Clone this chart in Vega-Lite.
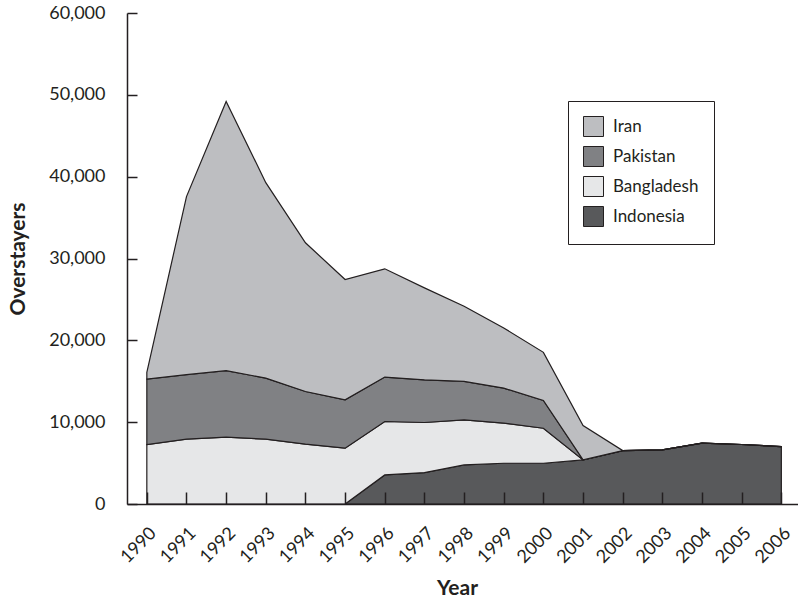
{
  "$schema": "https://vega.github.io/schema/vega-lite/v6.json",
  "autosize": {"type": "none"},
  "padding": {"left": 127, "top": 13, "right": 0, "bottom": 93},
  "width": 671,
  "height": 491,
  "background": "white",
  "config": {
    "view": {"stroke": null},
    "font": "Lato",
    "axis": {
      "grid": false,
      "domainColor": "#231f20",
      "domainWidth": 1.5,
      "tickColor": "#231f20",
      "tickWidth": 1.5,
      "labelColor": "#231f20",
      "titleColor": "#231f20",
      "labelFont": "Lato",
      "titleFont": "Lato"
    }
  },
  "data": {
    "values": [
      {"year": 1990, "country": "Indonesia", "value": 0},
      {"year": 1991, "country": "Indonesia", "value": 0},
      {"year": 1992, "country": "Indonesia", "value": 0},
      {"year": 1993, "country": "Indonesia", "value": 0},
      {"year": 1994, "country": "Indonesia", "value": 0},
      {"year": 1995, "country": "Indonesia", "value": 0},
      {"year": 1996, "country": "Indonesia", "value": 3550},
      {"year": 1997, "country": "Indonesia", "value": 3840},
      {"year": 1998, "country": "Indonesia", "value": 4780},
      {"year": 1999, "country": "Indonesia", "value": 4980},
      {"year": 2000, "country": "Indonesia", "value": 4980},
      {"year": 2001, "country": "Indonesia", "value": 5390},
      {"year": 2002, "country": "Indonesia", "value": 6530},
      {"year": 2003, "country": "Indonesia", "value": 6610},
      {"year": 2004, "country": "Indonesia", "value": 7430},
      {"year": 2005, "country": "Indonesia", "value": 7270},
      {"year": 2006, "country": "Indonesia", "value": 7020},
      {"year": 1990, "country": "Bangladesh", "value": 7260},
      {"year": 1991, "country": "Bangladesh", "value": 7920},
      {"year": 1992, "country": "Bangladesh", "value": 8160},
      {"year": 1993, "country": "Bangladesh", "value": 7920},
      {"year": 1994, "country": "Bangladesh", "value": 7310},
      {"year": 1995, "country": "Bangladesh", "value": 6820},
      {"year": 1996, "country": "Bangladesh", "value": 6530},
      {"year": 1997, "country": "Bangladesh", "value": 6120},
      {"year": 1998, "country": "Bangladesh", "value": 5510},
      {"year": 1999, "country": "Bangladesh", "value": 4900},
      {"year": 2000, "country": "Bangladesh", "value": 4280},
      {"year": 2001, "country": "Bangladesh", "value": 0},
      {"year": 2002, "country": "Bangladesh", "value": 0},
      {"year": 2003, "country": "Bangladesh", "value": 0},
      {"year": 2004, "country": "Bangladesh", "value": 0},
      {"year": 2005, "country": "Bangladesh", "value": 0},
      {"year": 2006, "country": "Bangladesh", "value": 0},
      {"year": 1990, "country": "Pakistan", "value": 8010},
      {"year": 1991, "country": "Pakistan", "value": 7880},
      {"year": 1992, "country": "Pakistan", "value": 8130},
      {"year": 1993, "country": "Pakistan", "value": 7470},
      {"year": 1994, "country": "Pakistan", "value": 6440},
      {"year": 1995, "country": "Pakistan", "value": 5910},
      {"year": 1996, "country": "Pakistan", "value": 5430},
      {"year": 1997, "country": "Pakistan", "value": 5220},
      {"year": 1998, "country": "Pakistan", "value": 4690},
      {"year": 1999, "country": "Pakistan", "value": 4280},
      {"year": 2000, "country": "Pakistan", "value": 3390},
      {"year": 2001, "country": "Pakistan", "value": 0},
      {"year": 2002, "country": "Pakistan", "value": 0},
      {"year": 2003, "country": "Pakistan", "value": 0},
      {"year": 2004, "country": "Pakistan", "value": 0},
      {"year": 2005, "country": "Pakistan", "value": 0},
      {"year": 2006, "country": "Pakistan", "value": 0},
      {"year": 1990, "country": "Iran", "value": 810},
      {"year": 1991, "country": "Iran", "value": 21760},
      {"year": 1992, "country": "Iran", "value": 32900},
      {"year": 1993, "country": "Iran", "value": 23880},
      {"year": 1994, "country": "Iran", "value": 18170},
      {"year": 1995, "country": "Iran", "value": 14700},
      {"year": 1996, "country": "Iran", "value": 13230},
      {"year": 1997, "country": "Iran", "value": 11230},
      {"year": 1998, "country": "Iran", "value": 9180},
      {"year": 1999, "country": "Iran", "value": 7350},
      {"year": 2000, "country": "Iran", "value": 5880},
      {"year": 2001, "country": "Iran", "value": 4200},
      {"year": 2002, "country": "Iran", "value": 0},
      {"year": 2003, "country": "Iran", "value": 0},
      {"year": 2004, "country": "Iran", "value": 0},
      {"year": 2005, "country": "Iran", "value": 0},
      {"year": 2006, "country": "Iran", "value": 0}
    ]
  },
  "transform": [
    {"calculate": "indexof(['Indonesia', 'Bangladesh', 'Pakistan', 'Iran'], datum.country)", "as": "stackOrder"}
  ],
  "mark": {"type": "area", "stroke": "#231f20", "strokeWidth": 1.2, "opacity": 1, "fillOpacity": 1, "clip": true},
  "encoding": {
    "x": {
      "field": "year",
      "type": "quantitative",
      "scale": {"domain": [1989.5, 2006.42], "nice": false, "zero": false},
      "axis": {
        "title": "Year",
        "zindex": 3,
        "values": [1990, 1991, 1992, 1993, 1994, 1995, 1996, 1997, 1998, 1999, 2000, 2001, 2002, 2003, 2004, 2005, 2006],
        "format": "d",
        "labelAngle": -45,
        "labelAlign": "right",
        "labelBaseline": "top",
        "labelOverlap": false,
        "labelFontSize": 18,
        "ticks": true,
        "tickSize": -12,
        "tickColor": "#231f20",
        "tickWidth": 1.5,
        "tickOpacity": 1,
        "tickRound": true,
        "labelPadding": 32,
        "labelDx": 4,
        "titleFontSize": 21,
        "titleFontWeight": "bold",
        "titleBaseline": "alphabetic",
        "titleX": 330,
        "titleY": 90
      }
    },
    "y": {
      "field": "value",
      "type": "quantitative",
      "stack": "zero",
      "scale": {"domain": [0, 60000], "nice": false},
      "axis": {
        "title": "Overstayers",
        "zindex": 3,
        "values": [0, 10000, 20000, 30000, 40000, 50000, 60000],
        "format": ",.0f",
        "labelFontSize": 18,
        "tickSize": -10,
        "labelPadding": 32,
        "titleFontSize": 21,
        "titleFontWeight": "bold",
        "titleAngle": -90,
        "titleBaseline": "alphabetic",
        "titleX": -103
      }
    },
    "order": {"field": "stackOrder", "type": "quantitative", "sort": "ascending"},
    "color": {
      "field": "country",
      "type": "nominal",
      "scale": {
        "domain": ["Iran", "Pakistan", "Bangladesh", "Indonesia"],
        "range": ["#bdbec1", "#808184", "#e6e7e8", "#58595b"]
      },
      "legend": {
        "title": null,
        "orient": "none",
        "legendX": 441,
        "legendY": 88,
        "strokeColor": "#231f20",
        "fillColor": "white",
        "padding": 15,
        "symbolType": "square",
        "symbolSize": 400,
        "symbolStrokeColor": "#231f20",
        "symbolStrokeWidth": 1,
        "symbolOpacity": 1,
        "labelFontSize": 17,
        "labelColor": "#231f20",
        "labelOffset": 9,
        "rowPadding": 5
      }
    }
  }
}
